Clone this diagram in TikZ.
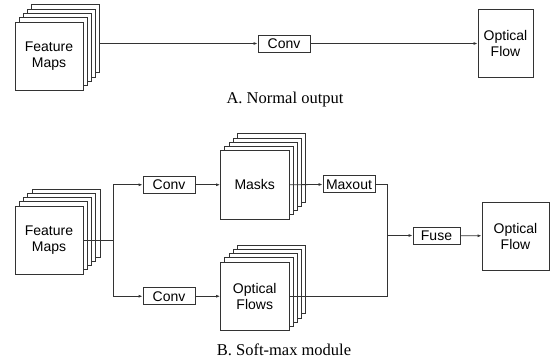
\documentclass[tikz,border=0pt]{standalone}
\usepackage{fontspec}
\setmainfont{Liberation Serif}
\setsansfont{Liberation Sans}
\usepackage{tikz}
\usetikzlibrary{arrows.meta,positioning,calc}

\tikzset{
  box/.style={draw=black!80,line width=0.8pt,fill=white,inner sep=1pt,
    font=\sffamily\fontsize{14}{16}\selectfont,align=center},
  layer/.style={draw=black!80,line width=0.8pt,fill=white},
  opbox/.style={box,minimum width=52pt,minimum height=17pt},
  link/.style={draw=black!80,line width=0.8pt},
  arr/.style={link,-{Latex[length=4pt,width=3pt]}},
  caption/.style={font=\fontsize{16.5}{19}\selectfont}
}

\begin{document}
\begin{tikzpicture}[x=1pt,y=-1pt]
  \useasboundingbox (0,0) rectangle (550,362);

  % A. normal output
  \foreach \i in {4,3,2,1}
    \draw[layer] (15+4.2*\i,22-4.3*\i) rectangle ++(68,68);
  \node[box,minimum width=68pt,minimum height=68pt] (fmA) at (49,56) {Feature\\Maps};
  \coordinate (fmAout) at (99.8,43.5);
  \node[opbox] (convA) at (284,43.5) {Conv};
  \node[box,minimum width=55pt,minimum height=68pt] (flowA) at (505.5,43.5) {Optical\\Flow};
  \draw[arr] (fmAout) -- (convA);
  \draw[arr] (convA) -- (flowA);
  \node[caption] (capA) at (285,100) {A. Normal output};

  % B. soft-max module
  \foreach \i in {4,3,2,1}
    \draw[layer] (15+4.25*\i,206-4.25*\i) rectangle ++(68,68);
  \node[box,minimum width=68pt,minimum height=68pt] (fmB) at (49,240) {Feature\\Maps};

  \foreach \i in {4,3,2,1}
    \draw[layer] (220.5+4.2*\i,150.5-4.2*\i) rectangle ++(68.5,68.5);
  \node[box,minimum width=68.5pt,minimum height=68.5pt] (masks) at (254.75,184.75) {Masks};

  \foreach \i in {4,3,2,1}
    \draw[layer] (220.5+4.2*\i,262-4.2*\i) rectangle ++(68.5,68.5);
  \node[box,minimum width=68.5pt,minimum height=68.5pt] (flows) at (254.75,296.25) {Optical\\Flows};

  \node[opbox] (convM) at (169,184.75) {Conv};
  \node[opbox] (convF) at (169,296.25) {Conv};
  \node[opbox] (maxout) at (349,184.25) {Maxout};
  \node[opbox,minimum width=47pt] (fuse) at (436.5,235.5) {Fuse};
  \node[box,minimum width=67pt,minimum height=68pt] (flowB) at (515.5,236) {Optical\\Flow};

  \coordinate (split) at (113,240);
  \coordinate (merge) at (387,235.5);

  \draw[link] (fmB.east |- split) -- (split);
  \draw[arr] (split) |- (convM);
  \draw[arr] (split) |- (convF);
  \draw[arr] (convM) -- (masks);
  \draw[arr] (convF) -- (flows);
  \draw[arr] (masks.east) -- (maxout);
  \draw[link] (maxout.east) -| (merge);
  \draw[link] (flows.east) -| (merge);
  \draw[arr] (merge) -- (fuse);
  \draw[arr] (fuse) -- (flowB);
  \node[caption] (capB) at (284,350) {B. Soft-max module};
\end{tikzpicture}
\end{document}
